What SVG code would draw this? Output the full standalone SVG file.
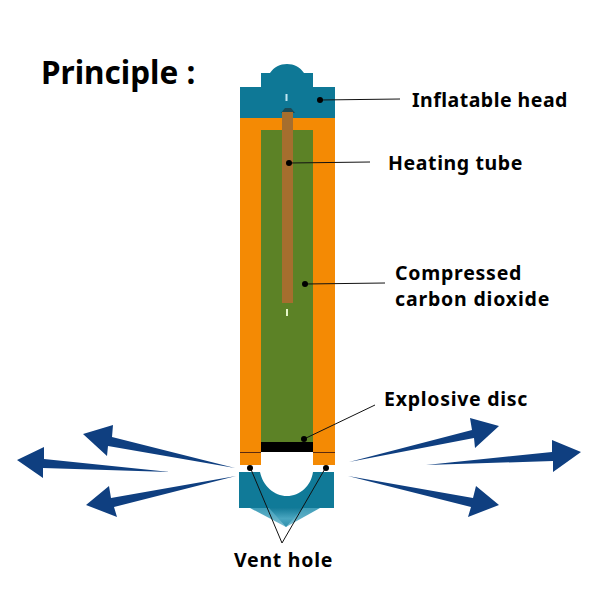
<svg xmlns="http://www.w3.org/2000/svg" width="600" height="600" viewBox="0 0 600 600">
<style>
text{font-family:"Noto Sans","Open Sans",sans-serif;font-weight:700;fill:#000}
.l{font-size:19.500px;letter-spacing:.6px}
.a{fill:#0f3f80}
.ln{stroke:#111;stroke-width:1;fill:none}
.d{fill:#000}
</style>
<defs>
<linearGradient id="fun" x1="0" y1="0" x2="0" y2="1"><stop offset="0" stop-color="#137a98"/><stop offset=".55" stop-color="#4aa6c0"/><stop offset="1" stop-color="#2f8fac"/></linearGradient>
<linearGradient id="fun2" x1="0" y1="0" x2="0" y2="1"><stop offset="0" stop-color="#3f9db8"/><stop offset="1" stop-color="#7cc0d3"/></linearGradient>
</defs>
<rect width="600" height="600" fill="#fff"/>
<text x="41" y="84" style="font-size:31.500px">Principle :</text>
<g id="body">
<rect x="240" y="118" width="95" height="347" fill="#f48a04"/>
<rect x="261" y="130" width="52" height="312" fill="#5c8226"/>
<rect x="261" y="442" width="52" height="10" fill="#000"/>
<rect x="261" y="452" width="52" height="14" fill="#fff"/>
<path d="M240 452.500H261M313 452.500H335" stroke="#5a2a10" stroke-width="1"/>
</g>
<g id="head">
<path d="M240 118V87H261V73H270C274 67 280 64 287 64C294 64 300 67 304 73H313V87H335V118Z" fill="#0e7896"/>
<rect x="285.500" y="94" width="2" height="7" fill="#bfe6f2"/>
<path d="M281 113H295L291 108H285Z" fill="#1c4a55"/>
</g>
<g id="tube">
<rect x="282" y="112" width="11" height="191" fill="#a66e2e"/>
<rect x="286" y="309" width="2" height="7" fill="#e6f5c8"/>
</g>
<g id="base">
<path d="M239 472H260C263 486 274 496 287 496C300 496 311 486 313 472H334V508H239Z" fill="#107a98"/>
<path d="M250 508H320L286 527Z" fill="url(#fun2)"/>
<path d="M269 508H303L286 527Z" fill="url(#fun)"/>
</g>
<g id="connectors">
<path class="ln" d="M320 100L400 99M289 163L370 162M305 284L385 283M304 439L375 405M250 467L282 543L326 467"/>
<circle class="d" cx="320" cy="100" r="3"/>
<circle class="d" cx="289" cy="163" r="3"/>
<circle class="d" cx="305" cy="284" r="3"/>
<circle class="d" cx="304" cy="439" r="3"/>
<circle class="d" cx="250" cy="468" r="3"/>
<circle class="d" cx="326" cy="468" r="3"/>
</g>
<g id="arrows">
<polygon class="a" points="235,468 108,446 107,456 83,434 113,425 112,437"/>
<polygon class="a" points="170,472 43,468 43,478 17,460 44,447 44,459"/>
<polygon class="a" points="236,476 114,507 117,517 86,505 109,486 111,498"/>
<polygon class="a" points="349,462 472,430 470,418 499,426 475,448 474,438"/>
<polygon class="a" points="426,465 552,452 552,440 581,452 553,472 553,461"/>
<polygon class="a" points="348,476 473,498 476,486 499,505 468,517 471,507"/>
</g>
<text class="l" x="412" y="107" textLength="156">Inflatable head</text>
<text class="l" x="388" y="170" textLength="135">Heating tube</text>
<text class="l" x="395" y="280" textLength="127">Compressed</text>
<text class="l" x="395" y="306" textLength="155">carbon dioxide</text>
<text class="l" x="384" y="406" textLength="144">Explosive disc</text>
<text class="l" x="234" y="567" textLength="99">Vent hole</text>
</svg>
